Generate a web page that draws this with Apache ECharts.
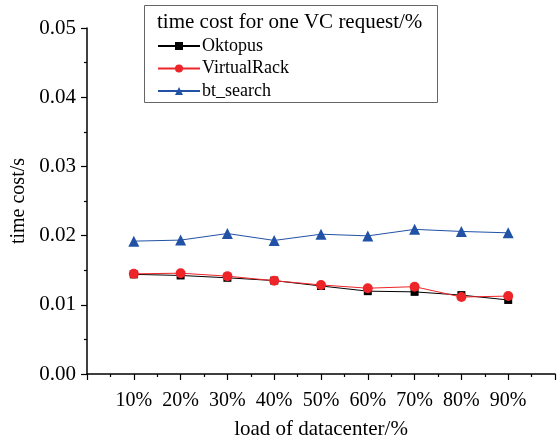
<!DOCTYPE html>
<html>
<head>
<meta charset="utf-8">
<script src="https://cdn.jsdelivr.net/npm/echarts@6/dist/echarts.min.js"></script>
<style>
  html, body { margin: 0; padding: 0; background: #fff; }
  #chart { width: 558px; height: 445px; }
</style>
</head>
<body>
<div id="chart"></div>
<script>
const loads = [10, 20, 30, 40, 50, 60, 70, 80, 90]
const oktopus = [0.0144, 0.01424, 0.0139, 0.0135, 0.01272, 0.01197, 0.01187, 0.0114, 0.0107]
const virtualRack = [0.01447, 0.01457, 0.01414, 0.01348, 0.01287, 0.0124, 0.01262, 0.01112, 0.01126]
const btSearch = [0.0192, 0.01935, 0.0203, 0.0193, 0.0202, 0.01996, 0.0209, 0.0206, 0.0204]
const legendTitle = 'time cost for one VC request/%'

const font = 'Liberation Serif, Times New Roman, serif'

const pairs = arr => loads.map((x, i) => [x, arr[i]])

let chart = echarts.init(document.getElementById('chart'))

chart.setOption({
  animation: false,
  backgroundColor: '#fff',
  textStyle: { fontFamily: font },
  grid: { left: 87, right: 2, top: 28, bottom: 64 },
  graphic: [
    {
      type: 'rect',
      shape: { x: 144.5, y: 5.5, width: 293, height: 97 },
      style: { fill: '#fff', stroke: '#666', lineWidth: 1 },
      z: 10
    },
    {
      type: 'text',
      x: 157, y: 22,
      style: { text: legendTitle, font: '21px ' + font, fill: '#000', textVerticalAlign: 'middle' },
      z: 11
    }
  ],
  legend: {
    orient: 'vertical',
    left: 157,
    top: 37,
    padding: 0,
    itemWidth: 42,
    itemHeight: 10,
    itemGap: 4.5,
    z: 12,
    textStyle: { fontFamily: font, fontSize: 18, color: '#000', padding: [0, 0, 0, -3] },
    data: ['Oktopus', 'VirtualRack', 'bt_search']
  },
  xAxis: {
    type: 'value',
    min: 0,
    max: 100,
    interval: 10,
    name: 'load of datacenter/%',
    nameLocation: 'middle',
    nameGap: 45,
    nameTextStyle: { fontFamily: font, fontSize: 21, color: '#000' },
    axisLine: { show: true, lineStyle: { color: '#000', width: 1.5 } },
    axisTick: { show: true, length: 6, lineStyle: { color: '#000', width: 1.2 } },
    minorTick: { show: true, splitNumber: 2, length: 3, lineStyle: { color: '#000', width: 1.2 } },
    splitLine: { show: false },
    axisLabel: {
      fontFamily: font, fontSize: 20, color: '#000', margin: 17,
      formatter: v => (v === 0 || v === 100) ? '' : v + '%'
    }
  },
  yAxis: {
    type: 'value',
    min: 0,
    max: 0.05,
    interval: 0.01,
    name: 'time cost/s',
    nameLocation: 'middle',
    nameGap: 52,
    nameTextStyle: { fontFamily: font, fontSize: 20, color: '#000' },
    axisLine: { show: true, lineStyle: { color: '#000', width: 1.5 } },
    axisTick: { show: true, length: 6, lineStyle: { color: '#000', width: 1.2 } },
    minorTick: { show: true, splitNumber: 2, length: 3, lineStyle: { color: '#000', width: 1.2 } },
    splitLine: { show: false },
    axisLabel: {
      fontFamily: font, fontSize: 21, color: '#000', margin: 11,
      formatter: v => v.toFixed(2)
    }
  },
  series: [
    {
      name: 'Oktopus',
      type: 'line',
      data: pairs(oktopus),
      symbol: 'rect',
      symbolSize: 8,
      color: '#000',
      lineStyle: { width: 1, color: '#000' },
      itemStyle: { color: '#000' }
    },
    {
      name: 'VirtualRack',
      type: 'line',
      data: pairs(virtualRack),
      symbol: 'circle',
      symbolSize: 10,
      color: '#ee2528',
      lineStyle: { width: 1, color: '#ee2528' },
      itemStyle: { color: '#ee2528' }
    },
    {
      name: 'bt_search',
      type: 'line',
      data: pairs(btSearch),
      symbol: 'triangle',
      symbolSize: 11,
      color: '#2152a6',
      lineStyle: { width: 1, color: '#2152a6' },
      itemStyle: { color: '#2152a6' }
    }
  ]
})
</script>
</body>
</html>
